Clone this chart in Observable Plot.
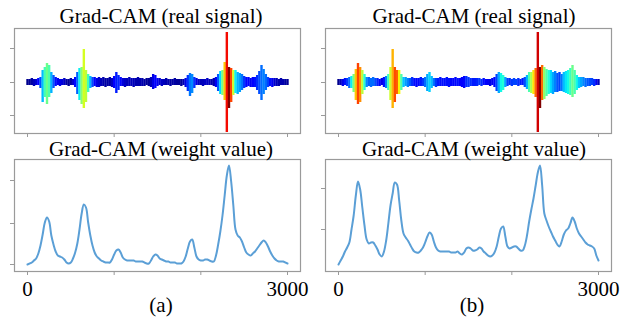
<!DOCTYPE html>
<html><head><meta charset="utf-8">
<script src="https://cdn.jsdelivr.net/npm/d3@7"></script>
<script src="https://cdn.jsdelivr.net/npm/@observablehq/plot@0.6"></script>
<style>
body{margin:0;background:#fff}
#chart{position:relative;width:634px;height:322px;overflow:hidden;font-family:"Liberation Serif","Times New Roman",serif}
#chart svg{position:absolute;overflow:visible}
</style>
</head><body><div id="chart"></div>
<script>
// ---------- data ----------
const sampleStep = 25; // samples between successive points, 0..3000
const xTicks = [0, 1000, 2000, 3000];
const xTickLabels = ["0", "", "", "3000"];
const titleTop = "Grad-CAM (real signal)";
const titleBottom = "Grad-CAM (weight value)";
const panelLabels = ["(a)", "(b)"];

// Grad-CAM weight (normalized) — panel (a)
const weightA = [
 0.01,0.02,0.03,0.05,0.07,0.12,0.20,0.31,0.43,0.48,
 0.44,0.30,0.21,0.14,0.10,0.09,0.08,0.06,0.03,0.02,
 0.03,0.07,0.13,0.22,0.36,0.52,0.61,0.58,0.43,0.30,
 0.20,0.13,0.09,0.07,0.05,0.04,0.03,0.03,0.03,0.06,
 0.11,0.15,0.16,0.13,0.08,0.06,0.05,0.05,0.05,0.05,
 0.04,0.04,0.04,0.04,0.03,0.02,0.02,0.05,0.09,0.11,
 0.10,0.07,0.06,0.05,0.04,0.04,0.03,0.03,0.03,0.02,
 0.02,0.02,0.04,0.09,0.17,0.24,0.26,0.18,0.09,0.06,
 0.05,0.05,0.06,0.06,0.05,0.04,0.04,0.10,0.21,0.34,
 0.50,0.70,0.90,1.00,0.84,0.60,0.36,0.30,0.28,0.24,
 0.18,0.13,0.11,0.10,0.12,0.14,0.17,0.20,0.23,0.25,
 0.23,0.19,0.14,0.10,0.07,0.05,0.04,0.04,0.04,0.03,
 0.02];
// Grad-CAM weight (normalized) — panel (b)
const weightB = [
 0.01,0.05,0.09,0.14,0.18,0.23,0.36,0.50,0.70,0.84,
 0.76,0.58,0.40,0.26,0.22,0.23,0.23,0.20,0.16,0.11,
 0.09,0.14,0.25,0.42,0.60,0.72,0.83,0.81,0.65,0.45,
 0.32,0.28,0.25,0.21,0.17,0.14,0.13,0.13,0.15,0.18,
 0.23,0.29,0.33,0.31,0.24,0.18,0.15,0.14,0.14,0.14,
 0.14,0.14,0.13,0.13,0.13,0.14,0.12,0.11,0.13,0.17,
 0.18,0.17,0.15,0.15,0.16,0.18,0.17,0.14,0.12,0.10,
 0.09,0.10,0.13,0.19,0.29,0.37,0.39,0.29,0.19,0.17,
 0.18,0.19,0.19,0.17,0.15,0.15,0.20,0.30,0.44,0.56,
 0.67,0.80,0.93,1.00,0.80,0.52,0.45,0.39,0.34,0.29,
 0.25,0.21,0.19,0.24,0.31,0.35,0.37,0.42,0.48,0.44,
 0.37,0.32,0.29,0.26,0.23,0.21,0.20,0.19,0.17,0.10,
 0.05];
// Real signal envelope (upper / lower excursion) — panel (a)
const signalHiA = [
 3,3,4,3,3,4,5,12,15,19,
 17,10,7,5,4,3,3,4,3,3,
 4,3,5,10,14,15,33,12,8,6,
 5,5,4,5,4,5,4,4,5,4,
 6,10,7,5,4,4,4,5,4,4,
 4,5,4,4,3,4,4,5,8,7,
 4,4,3,3,4,3,3,3,4,3,
 3,3,3,4,7,9,8,5,4,3,
 3,3,3,4,3,3,4,5,8,11,
 12,20,50,15,14,12,12,10,9,8,
 6,5,5,4,5,5,7,11,17,13,
 8,5,4,4,4,4,3,4,3,3,
 3];
const signalLoA = [
 -3,-3,-3,-4,-3,-3,-6,-20,-15,-22,
 -15,-11,-6,-4,-3,-4,-3,-3,-3,-4,
 -3,-3,-5,-12,-18,-22,-26,-20,-10,-6,
 -5,-4,-5,-5,-4,-4,-5,-4,-4,-5,
 -6,-11,-8,-4,-4,-5,-4,-4,-4,-5,
 -4,-4,-4,-4,-4,-3,-4,-5,-7,-6,
 -4,-3,-4,-3,-3,-3,-4,-3,-3,-3,
 -3,-4,-3,-5,-9,-14,-11,-6,-3,-3,
 -3,-4,-3,-3,-3,-3,-4,-5,-9,-12,
 -13,-18,-50,-26,-20,-13,-11,-12,-10,-8,
 -6,-5,-4,-5,-5,-5,-8,-12,-18,-12,
 -8,-5,-4,-5,-4,-4,-4,-3,-3,-3,
 -3];
// Real signal envelope — panel (b)
const signalHiB = [
 3,3,3,4,4,5,6,8,13,19,
 15,12,8,5,5,4,5,4,4,3,
 4,5,6,8,15,33,15,12,12,8,
 5,5,4,4,5,4,4,4,5,4,
 5,8,10,6,4,4,4,5,4,4,
 5,4,4,4,5,4,4,5,6,6,
 5,4,4,4,4,4,3,4,3,3,
 3,4,5,8,10,9,7,5,4,4,
 3,4,3,4,3,4,5,7,10,10,
 12,14,50,15,17,15,13,12,12,10,
 11,9,10,8,10,11,12,14,17,12,
 7,5,5,5,4,4,4,4,3,3,
 3];
const signalLoB = [
 -3,-3,-4,-3,-4,-6,-6,-10,-18,-22,
 -20,-12,-8,-5,-4,-5,-4,-4,-4,-4,
 -3,-5,-6,-8,-18,-26,-20,-12,-12,-8,
 -5,-4,-5,-4,-4,-4,-5,-4,-4,-4,
 -5,-9,-10,-6,-4,-5,-4,-4,-4,-4,
 -4,-5,-4,-4,-4,-4,-4,-5,-6,-5,
 -5,-4,-4,-4,-4,-3,-4,-3,-3,-3,
 -4,-3,-5,-9,-11,-10,-8,-5,-4,-3,
 -4,-3,-3,-4,-3,-3,-5,-7,-10,-11,
 -12,-15,-50,-26,-18,-17,-14,-12,-11,-12,
 -10,-10,-9,-9,-10,-11,-12,-13,-15,-12,
 -8,-6,-5,-4,-5,-4,-4,-3,-4,-3,
 -3];

// jet colormap stops
const jetStops = [0, .11, .125, .25, .34, .375, .5, .64, .66, .75, .89, .91, 1];
const jetColors = ["#000080","#0000ff","#0000ff","#0080ff","#00dbff","#14ffe2","#7bff7b","#eeff08","#ffec00","#ff9700","#ff1300","#e80000","#800000"];

// ---------- drawing ----------
const jet = d3.scaleLinear().domain(jetStops).range(jetColors).interpolate(d3.interpolateRgb).clamp(true);
const chart = document.getElementById("chart");
const gray = "#9a9a9a";
const font = '"Liberation Serif","Times New Roman",serif';

const panels = [
  {left: 14, right: 300, w: weightA, hi: signalHiA, lo: signalLoA, wTicks: [0.01, 0.42, 0.85], cx: 161, label: panelLabels[0], lx: 161},
  {left: 325, right: 611, w: weightB, hi: signalHiB, lo: signalLoB, wTicks: [0.36, 0.77], cx: 474, label: panelLabels[1], lx: 472}
];

for (const p of panels) {
  const rows = p.w.map((w, i) => ({x: i * sampleStep, w, hi: p.hi[i], lo: p.lo[i]}));
  const mL = 14, mR = 20;
  const width = (p.right - p.left) + mL + mR;

  const top = Plot.plot({
    width, height: 125, marginLeft: mL, marginRight: mR, marginTop: 8, marginBottom: 12,
    style: {fontFamily: font, fontSize: "21px", background: "transparent", overflow: "visible"},
    x: {domain: [-150, 3150]},
    y: {domain: [-51, 54]},
    color: {type: "linear", domain: [0, 1], interpolate: t => jet(t)},
    marks: [
      Plot.ruleX(rows, {x: "x", y1: "lo", y2: "hi", stroke: "w", strokeWidth: 2.4}),
      Plot.frame({stroke: gray, strokeWidth: 1.2}),
      Plot.axisX({ticks: xTicks, tickFormat: () => "", tickSize: 4, stroke: gray, label: null}),
      Plot.axisY({ticks: [-33, 0, 34], tickFormat: () => "", tickSize: 4, stroke: gray, label: null})
    ]
  });
  top.style.left = (p.left - mL) + "px";
  top.style.top = "20px";
  chart.appendChild(top);

  const bottom = Plot.plot({
    width, height: 151, marginLeft: mL, marginRight: mR, marginTop: 9, marginBottom: 30,
    style: {fontFamily: font, fontSize: "21px", background: "transparent", overflow: "visible"},
    x: {domain: [-150, 3150]},
    y: {domain: [-0.06, 1.06]},
    marks: [
      Plot.line(rows, {x: "x", y: "w", stroke: "#5b9fd6", strokeWidth: 2, curve: "catmull-rom"}),
      Plot.frame({stroke: gray, strokeWidth: 1.2}),
      Plot.axisX({ticks: xTicks, tickFormat: (d, i) => xTickLabels[xTicks.indexOf(d)], tickSize: 4, tickPadding: 6, stroke: gray, fill: "black", fontSize: 21, label: null}),
      Plot.axisY({ticks: p.wTicks, tickFormat: () => "", tickSize: 4, stroke: gray, label: null})
    ]
  });
  bottom.style.left = (p.left - mL) + "px";
  bottom.style.top = "150px";
  chart.appendChild(bottom);
}

// titles and panel labels
const overlay = d3.select(chart).append("svg")
  .attr("width", 634).attr("height", 322)
  .style("left", "0px").style("top", "0px")
  .style("font-family", font).style("font-size", "21px");
for (const p of panels) {
  overlay.append("text").attr("x", p.cx).attr("y", 22.5).attr("text-anchor", "middle").text(titleTop);
  overlay.append("text").attr("x", p.cx).attr("y", 156).attr("text-anchor", "middle").text(titleBottom);
  overlay.append("text").attr("x", p.lx).attr("y", 312).attr("text-anchor", "middle").text(p.label);
}
</script>
</body></html>
